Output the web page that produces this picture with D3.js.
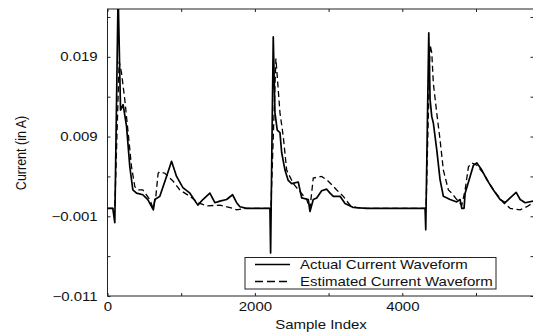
<!DOCTYPE html>
<html><head><meta charset="utf-8">
<script src="https://cdn.jsdelivr.net/npm/d3@7"></script>
<style>body{margin:0;background:#fff}</style>
</head><body><svg id="c" width="533" height="332"></svg>
<script>
const sampleActual = [0,72,99,144,177,212,258,303,344,394,479,547,622,642,710,801,869,937,1023,1118,1226,1294,1389,1457,1525,1616,1697,1752,1797,1888,2204,2213,2249,2272,2303,2340,2363,2408,2452,2499,2588,2635,2724,2747,2792,2838,2906,2974,3019,3064,3155,3223,3335,3517,4309,4318,4359,4377,4400,4421,4468,4512,4557,4648,4739,4784,4807,4838,4852,4920,4965,5011,5079,5147,5236,5327,5395,5463,5545,5599,5667,5776];
const currentActual = [0,0,-0.0018,0.027,0.0123,0.0130,0.0103,0.0052,0.0023,0.0019,0.0017,0.0011,-0.0002,0.0011,0.0015,0.0040,0.0059,0.0040,0.0026,0.0019,0.0004,0.0011,0.0019,0.0007,0.0009,0.0011,0.0017,0.0007,0.0002,0,0,-0.0056,0.0215,0.0120,0.0098,0.0095,0.0070,0.0048,0.0035,0.0031,0.0033,0.0013,0.0011,-0.0004,0.0011,0.0013,0.0022,0.0024,0.0019,0.0015,0.0015,0.0006,0.0001,0,0,-0.0027,0.0220,0.0136,0.0115,0.0107,0.0073,0.0036,0.0015,0.0011,0.0008,0.0011,0,0,0.0019,0.0040,0.0054,0.0057,0.0048,0.0036,0.0023,0.0011,0.0007,0.0013,0.0020,0.0011,0.0007,0.0009];
const sampleEstimated = [0,99,158,190,235,280,326,371,416,479,574,619,656,687,710,778,823,891,982,1118,1230,1344,1525,1706,1752,1888,2217,2285,2340,2385,2431,2520,2611,2702,2747,2792,2906,2996,3110,3199,3290,3381,3517,4322,4377,4400,4421,4468,4512,4557,4625,4671,4739,4807,4852,4897,4943,5011,5100,5236,5372,5463,5599,5690,5776];
const currentEstimated = [0,0,0.0184,0.0170,0.0136,0.0095,0.0052,0.0027,0.0023,0.0023,0.0011,0,0.0015,0.0044,0.0046,0.0044,0.0040,0.0034,0.0023,0.0015,0.0007,0.0003,0.0004,0,-0.0002,0,0,0.0188,0.0120,0.0090,0.0048,0.0031,0.0021,0.0011,0,0.0038,0.0040,0.0034,0.0023,0.0015,0.0004,0.0001,0,0,0.0205,0.0195,0.0157,0.0119,0.0086,0.0048,0.0023,0.0019,0.0011,0.0004,0.0023,0.0052,0.0057,0.0054,0.0044,0.0023,0.0007,0,-0.0002,0.0002,0.0007];
const xTicks = [0,1000,2000,3000,4000,5000];
const xTickLabels = ["0","","2000","","4000",""];
const yTicks = [-0.011,-0.006,-0.001,0.004,0.009,0.014,0.019,0.024];
const yTickLabels = ["\u22120.011","","\u22120.001","","0.009","","0.019",""];
const seriesNames = ["Actual Current Waveform","Estimated Current Waveform"];
const xTitle = "Sample Index";
const yTitle = "Current (in A)";

const SX = 1.2, FS = 12.5, FONT = "'Liberation Sans', Arial, Helvetica, sans-serif";
const svg = d3.select("#c");
const L = 107.5, R = 533.5, T = 9, B = 296;
const x = d3.scaleLinear().domain([0, 5780]).range([L, R]);
const y = d3.scaleLinear().domain([-0.011, 0.025]).range([B, T]);

svg.append("defs").append("clipPath").attr("id","pc")
  .append("rect").attr("x",L).attr("y",T).attr("width",R-L).attr("height",B-T);

function styleAxis(g){
  g.select(".domain").remove();
  g.selectAll(".tick line").attr("stroke","#222").attr("stroke-width",1);
}
const fmtX = (d,i) => xTickLabels[i];
const fmtY = (d,i) => yTickLabels[i];

const gb = svg.append("g").attr("transform",`translate(0,${B})`)
  .call(d3.axisBottom(x).tickValues(xTicks).tickFormat(fmtX).tickSizeInner(-3).tickSizeOuter(0).tickPadding(6));
const gt = svg.append("g").attr("transform",`translate(0,${T})`)
  .call(d3.axisTop(x).tickValues(xTicks).tickFormat("").tickSizeInner(-3).tickSizeOuter(0));
const gl = svg.append("g").attr("transform",`translate(${L},0)`)
  .call(d3.axisLeft(y).tickValues(yTicks).tickFormat(fmtY).tickSizeInner(-3).tickSizeOuter(0).tickPadding(8));
const gr = svg.append("g").attr("transform",`translate(${R},0)`)
  .call(d3.axisRight(y).tickValues(yTicks).tickFormat("").tickSizeInner(-3).tickSizeOuter(0));
[gb,gt,gl,gr].forEach(styleAxis);
[gb,gl].forEach(g => g.selectAll("text")
  .attr("font-family",FONT).attr("font-size",FS).attr("fill","#111")
  .attr("transform",`scale(${SX},1)`));
gl.selectAll("text").attr("x",-8.2);

// frame
svg.append("rect").attr("x",L).attr("y",T).attr("width",R-L).attr("height",B-T)
  .attr("fill","none").attr("stroke","#222").attr("stroke-width",1);

const line = d3.line().x(d=>x(d[0])).y(d=>y(d[1]));
const act = sampleActual.map((s,i)=>[s,currentActual[i]]);
const est = sampleEstimated.map((s,i)=>[s,currentEstimated[i]]);
const pg = svg.append("g").attr("clip-path","url(#pc)");
pg.append("path").datum(est).attr("d",line).attr("fill","none")
  .attr("stroke","#000").attr("stroke-width",1.3).attr("stroke-dasharray","6,3.5");
pg.append("path").datum(act).attr("d",line).attr("fill","none")
  .attr("stroke","#000").attr("stroke-width",1.7).attr("stroke-linejoin","round");

// titles
svg.append("text").attr("transform",`translate(321,329) scale(${SX},1)`)
  .attr("text-anchor","middle").attr("font-family",FONT).attr("font-size",FS).attr("fill","#111").text(xTitle);
svg.append("text").attr("transform",`translate(26,153) scale(${SX},1) rotate(-90)`)
  .attr("text-anchor","middle").attr("font-family",FONT).attr("font-size",FS).attr("fill","#111").text(yTitle);

// legend
const lg = svg.append("g");
lg.append("rect").attr("x",245).attr("y",257.5).attr("width",251).attr("height",31.5)
  .attr("fill","#fff").attr("stroke","#222").attr("stroke-width",1);
const rows = [264.5, 281.5];
seriesNames.forEach((n,i)=>{
  lg.append("line").attr("x1",255).attr("x2",290).attr("y1",rows[i]).attr("y2",rows[i])
    .attr("stroke","#000").attr("stroke-width",i?1.3:1.4)
    .attr("stroke-dasharray", i ? "8,4" : null);
  lg.append("text").attr("transform",`translate(300,${rows[i]+4.6}) scale(${SX},1)`)
    .attr("font-family",FONT).attr("font-size",FS).attr("fill","#111").text(n);
});
</script></body></html>
